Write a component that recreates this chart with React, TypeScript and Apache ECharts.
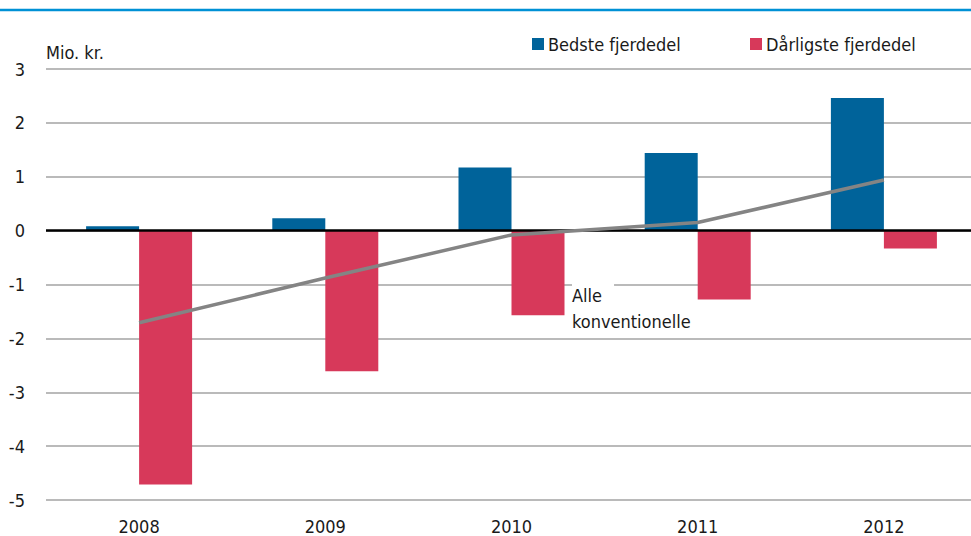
import React, { useEffect, useRef } from "react";
import * as echarts from "echarts";

const years = ["2008", "2009", "2010", "2011", "2012"];
const bedste = [0.08, 0.23, 1.17, 1.44, 2.46];
const daarligste = [-4.71, -2.61, -1.57, -1.28, -0.33];
const alle = [-1.71, -0.88, -0.08, 0.15, 0.94];

const FONT = "'DejaVu Sans Condensed', 'DejaVu Sans', sans-serif";
const FS = 18;
const TXT = "#1a1a1a";

export default function App() {
  const ref = useRef<HTMLDivElement>(null);
  useEffect(() => {
    if (!ref.current) return;
    const chart = echarts.init(ref.current, undefined, { renderer: "svg" });
    const legendText = { fontFamily: FONT, fontSize: FS, color: TXT, padding: [0, 0, 0, -1] };
    chart.setOption({
      animation: false,
      backgroundColor: "#ffffff",
      textStyle: { fontFamily: FONT },
      grid: { left: 46, right: 0, top: 69, bottom: 36, containLabel: false },
      legend: [
        {
          data: ["Bedste fjerdedel"],
          left: 532,
          top: 35,
          padding: 0,
          icon: "rect",
          itemWidth: 12,
          itemHeight: 12,
          textStyle: legendText,
          selectedMode: false,
        },
        {
          data: ["Dårligste fjerdedel"],
          left: 750,
          top: 35,
          padding: 0,
          icon: "rect",
          itemWidth: 12,
          itemHeight: 12,
          textStyle: legendText,
          selectedMode: false,
        },
      ],
      xAxis: {
        type: "category",
        data: years,
        axisLine: { show: false, onZero: false },
        axisTick: { show: false },
        axisLabel: { fontFamily: FONT, fontSize: FS, color: TXT, margin: 17 },
        splitLine: { show: false },
      },
      yAxis: {
        type: "value",
        min: -5,
        max: 3,
        interval: 1,
        name: "Mio. kr.",
        nameLocation: "end",
        nameGap: 8,
        nameTextStyle: { fontFamily: FONT, fontSize: FS, color: TXT, align: "left" },
        axisLine: { show: false },
        axisTick: { show: false },
        axisLabel: { fontFamily: FONT, fontSize: FS, color: TXT, margin: 21 },
        splitLine: { show: true, lineStyle: { color: "#a3a3a3", width: 1.5 } },
      },
      graphic: [
        {
          type: "line",
          z: 100,
          shape: { x1: 0, y1: 10, x2: 971, y2: 10 },
          style: { stroke: "#0091d5", lineWidth: 2.5 },
        },
        {
          type: "text",
          z: 100,
          left: 572,
          top: 282,
          style: {
            text: "Alle",
            fontFamily: FONT,
            fontSize: FS,
            fill: TXT,
            backgroundColor: "#ffffff",
            padding: [0, 12, 0, 0],
            lineHeight: 26,
          },
        },
        {
          type: "text",
          z: 100,
          left: 572,
          top: 308,
          style: {
            text: "konventionelle",
            fontFamily: FONT,
            fontSize: FS,
            fill: TXT,
            lineHeight: 26,
          },
        },
      ],
      series: [
        {
          name: "Bedste fjerdedel",
          type: "bar",
          data: bedste,
          barWidth: 53,
          barGap: "0%",
          itemStyle: { color: "#00639a" },
          markLine: {
            silent: true,
            symbol: "none",
            label: { show: false },
            lineStyle: { color: "#000000", width: 2.5, type: "solid" },
            data: [{ yAxis: 0 }],
          },
        },
        {
          name: "Dårligste fjerdedel",
          type: "bar",
          data: daarligste,
          barWidth: 53,
          barGap: "0%",
          itemStyle: { color: "#d7395a" },
        },
        {
          name: "Alle konventionelle",
          type: "line",
          data: alle,
          symbol: "none",
          z: 5,
          lineStyle: { color: "#848484", width: 3.5 },
        },
      ],
    });
    return () => chart.dispose();
  }, []);
  return (
    <div style={{ position: "absolute", left: 0, top: 0, width: 971, height: 536, overflow: "hidden" }}>
      <div ref={ref} style={{ width: 977, height: 536 }} />
    </div>
  );
}
